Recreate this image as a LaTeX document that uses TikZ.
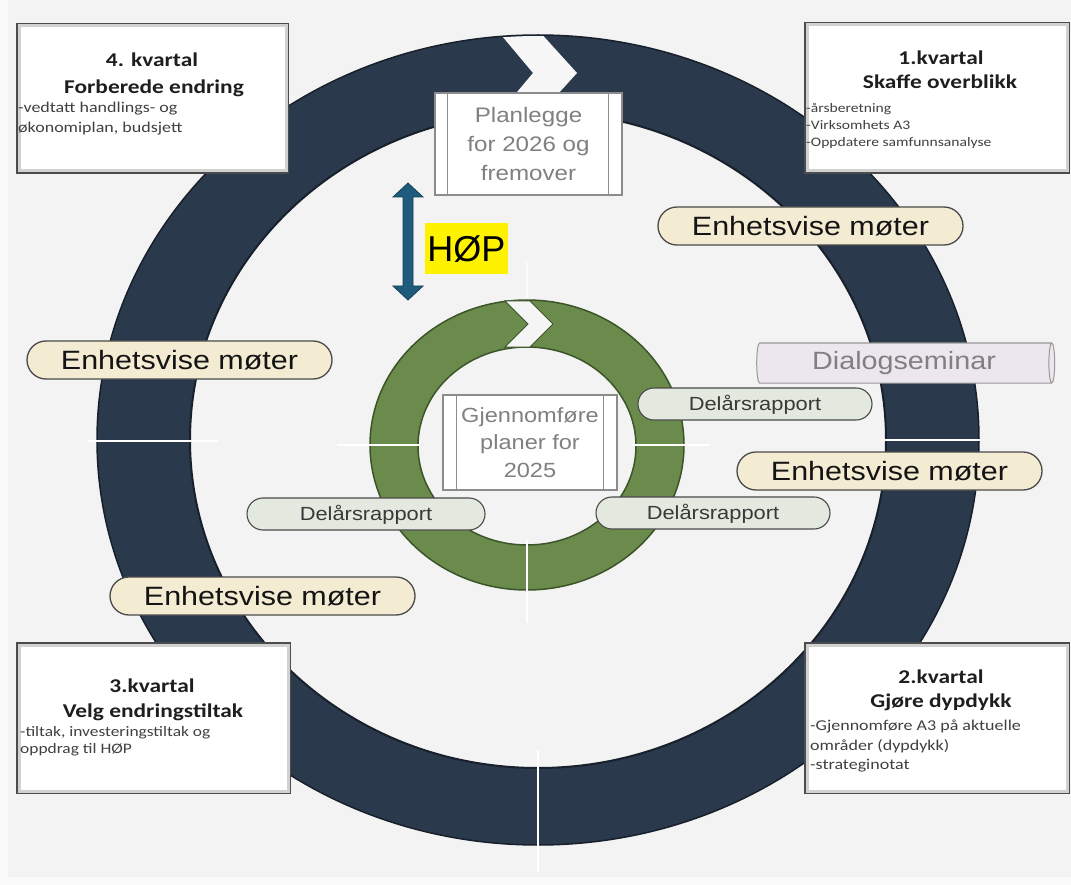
\documentclass[tikz,border=0pt]{standalone}
\usepackage{fontspec}
\setmainfont{Liberation Sans}
\newfontfamily\fgfont[FakeStretch=1.15]{Liberation Sans}
\newfontfamily\calfont[FakeStretch=1.2]{Carlito}
\usetikzlibrary{shapes.geometric}
\definecolor{bgc}{HTML}{F3F3F3}
\definecolor{ringdark}{HTML}{2B394C}
\definecolor{ringdarkedge}{HTML}{18202C}
\definecolor{ringgreen}{HTML}{6A8B4C}
\definecolor{ringgreenedge}{HTML}{3B5529}
\definecolor{cream}{HTML}{F4EBD3}
\definecolor{pillgreen}{HTML}{E3E9DF}
\definecolor{pillborder}{HTML}{4A4A4A}
\definecolor{lav}{HTML}{ECE6EE}
\definecolor{hopblue}{HTML}{1F5B7C}
\definecolor{boxtext}{HTML}{1E1E1E}
\definecolor{bodygray}{HTML}{404040}
\definecolor{graytext}{HTML}{808080}
\begin{document}
\begin{tikzpicture}[x=1pt,y=-1pt,
  cornerbox/.style={draw=black!70, line width=2pt, fill=white, inner sep=0pt},
  glow/.style={draw=black!18, line width=3pt},
  titletext/.style={font=\calfont\bfseries\fontsize{19.5}{22}\selectfont, text=boxtext, anchor=base, inner sep=0pt},
  bodytext/.style={font=\calfont\fontsize{15}{20}\selectfont, text=bodygray, anchor=base west, inner sep=0pt},
  smallbody/.style={bodytext, font=\calfont\fontsize{13}{17}\selectfont},
  empill/.style={draw=pillborder, line width=1.3pt, fill=cream, rounded corners=19pt, minimum width=305pt, minimum height=38pt, inner sep=0pt, font=\fgfont\fontsize{26.5}{30}\selectfont, text=black!92, text height=19pt, text depth=0pt},
  delpill/.style={draw=pillborder, line width=1.1pt, fill=pillgreen, rounded corners=16pt, minimum width=234pt, minimum height=32pt, inner sep=0pt, font=\fgfont\fontsize{19}{22}\selectfont, text=black!78, text height=13.6pt, text depth=0pt},
  dialog/.style={cylinder, draw=black!40, line width=1pt, fill=lav, aspect=0.25, minimum width=40pt, minimum height=298pt, inner sep=0pt, font=\fgfont\fontsize{25}{28}\selectfont, text=graytext},
  procbox/.style={draw=black!45, line width=1.3pt, fill=white, inner sep=0pt, align=center, text=graytext},
  divider/.style={white, line width=2.5pt}
]
\useasboundingbox (0,0) rectangle (1071,885);
% background
\fill[white!98!black] (0,0) rectangle (1071,885);
\fill[bgc] (8,0) rectangle (1071,877);

% dark outer ring
\fill[ringdark, even odd rule] (538,440) ellipse [x radius=441pt, y radius=405pt] (538,440) ellipse [x radius=348pt, y radius=328pt];
\draw[ringdarkedge, line width=1.5pt] (538,440) ellipse [x radius=441pt, y radius=405pt];
\draw[ringdarkedge, line width=2pt] (538,440) ellipse [x radius=348pt, y radius=328pt];
\begin{scope}
  \clip (538,440) ellipse [x radius=440pt, y radius=404pt];
  \fill[white!94!gray] (497,30) -- (538,30) -- (577,73) -- (538,116) -- (497,116) -- (533,73) -- cycle;
\end{scope}
\draw[divider] (88,441) -- (218,441);
\draw[divider] (882,440) -- (982,440);
\draw[divider] (538,750) -- (538,872);

% green inner ring
\fill[ringgreen, even odd rule] (527,445) ellipse [x radius=157pt, y radius=145pt] (527,446) ellipse [x radius=109pt, y radius=99pt];
\draw[ringgreenedge, line width=1.5pt] (527,445) ellipse [x radius=157pt, y radius=145pt];
\draw[ringgreenedge, line width=1.5pt] (527,446) ellipse [x radius=109pt, y radius=99pt];
\filldraw[fill=white!92!gray, draw=ringgreenedge, line width=1pt] (505,301) -- (530,301) -- (553,324) -- (530,347) -- (505,347) -- (528,324) -- cycle;
\draw[divider] (337,445) -- (420,445);
\draw[divider] (632,445) -- (710,445);
\draw[divider] (527,540) -- (527,623);
\draw[divider, opacity=0.6] (527,262) -- (527,299);

% corner boxes
\node[cornerbox, minimum width=271pt, minimum height=149pt] (b4) at (152.5,98.5) {};
\draw[glow] ([shift={(3,3)}]b4.north west) rectangle ([shift={(-3,-3)}]b4.south east);
\node[titletext] (t4a) at (152,67) {4. kvartal};
\node[titletext] (t4b) at (154,94) {Forberede endring};
\node[bodytext] (t4c) at (18,113) {-vedtatt handlings- og};
\node[bodytext] (t4d) at (18,133) {økonomiplan, budsjett};

\node[cornerbox, minimum width=264pt, minimum height=150pt] (b1) at (937,98) {};
\draw[glow] ([shift={(3,3)}]b1.north west) rectangle ([shift={(-3,-3)}]b1.south east);
\node[titletext] (t1a) at (941,65) {1.kvartal};
\node[titletext] (t1b) at (940,89) {Skaffe overblikk};
\node[smallbody] (t1c) at (806,113) {-årsberetning};
\node[smallbody] (t1d) at (806,130) {-Virksomhets A3};
\node[smallbody] (t1e) at (806,147) {-Oppdatere samfunnsanalyse};

\node[cornerbox, minimum width=264pt, minimum height=150pt] (b2) at (937,718) {};
\draw[glow] ([shift={(3,3)}]b2.north west) rectangle ([shift={(-3,-3)}]b2.south east);
\node[titletext] (t2a) at (941,683) {2.kvartal};
\node[titletext] (t2b) at (941,707) {Gjøre dypdykk};
\node[bodytext] (t2c) at (810,730) {-Gjennomføre A3 på aktuelle};
\node[bodytext] (t2d) at (810,750) {områder (dypdykk)};
\node[bodytext] (t2e) at (810,769) {-strateginotat};

\node[cornerbox, minimum width=273pt, minimum height=150pt] (b3) at (153.5,718) {};
\draw[glow] ([shift={(3,3)}]b3.north west) rectangle ([shift={(-3,-3)}]b3.south east);
\node[titletext] (t3a) at (152,692) {3.kvartal};
\node[titletext] (t3b) at (153,717) {Velg endringstiltak};
\node[bodytext, font=\calfont\fontsize{14.5}{18}\selectfont] (t3c) at (20,736) {-tiltak, investeringstiltak og};
\node[bodytext, font=\calfont\fontsize{14.5}{18}\selectfont] (t3d) at (20,753) {oppdrag til HØP};

% process boxes
\node[procbox, minimum width=187pt, minimum height=102pt, font=\fgfont\fontsize{21}{29}\selectfont] (plan) at (528.5,144) {Planlegge\\for 2026 og\\fremover};
\draw[black!45, line width=1pt] ([xshift=13pt]plan.north west) -- ([xshift=13pt]plan.south west);
\draw[black!45, line width=1pt] ([xshift=-14pt]plan.north east) -- ([xshift=-14pt]plan.south east);

\node[procbox, minimum width=174pt, minimum height=95pt, font=\fgfont\fontsize{20.5}{27.5}\selectfont] (gjen) at (530,442.5) {Gjennomføre\\planer for\\2025};
\draw[black!45, line width=1pt] ([xshift=14pt]gjen.north west) -- ([xshift=14pt]gjen.south west);
\draw[black!45, line width=1pt] ([xshift=-14pt]gjen.north east) -- ([xshift=-14pt]gjen.south east);

% pills
\node[empill] (em1) at (810.5,226) {Enhetsvise møter};
\node[empill] (em2) at (179.5,360) {Enhetsvise møter};
\node[empill] (em3) at (889.5,471) {Enhetsvise møter};
\node[empill] (em4) at (262.5,596) {Enhetsvise møter};
\node[delpill] (del1) at (755,404) {Delårsrapport};
\node[delpill, minimum width=238pt] (del2) at (366,514) {Delårsrapport};
\node[delpill] (del3) at (713,513) {Delårsrapport};
\node[dialog] (dia) at (904,363) {Dialogseminar};

% HØP double arrow and label
\filldraw[fill=hopblue, draw=hopblue!70!black, line width=0.8pt] (408,183) -- (423,197) -- (413,197) -- (413,286) -- (423,286) -- (408,300) -- (393,286) -- (403,286) -- (403,197) -- (393,197) -- cycle;
\node[fill=yellow, minimum width=83pt, minimum height=51pt, inner sep=0pt, font=\fontsize{36}{40}\selectfont, text height=25.8pt, text depth=0pt] (hop) at (466.5,248.5) {HØP};
\end{tikzpicture}
\end{document}
